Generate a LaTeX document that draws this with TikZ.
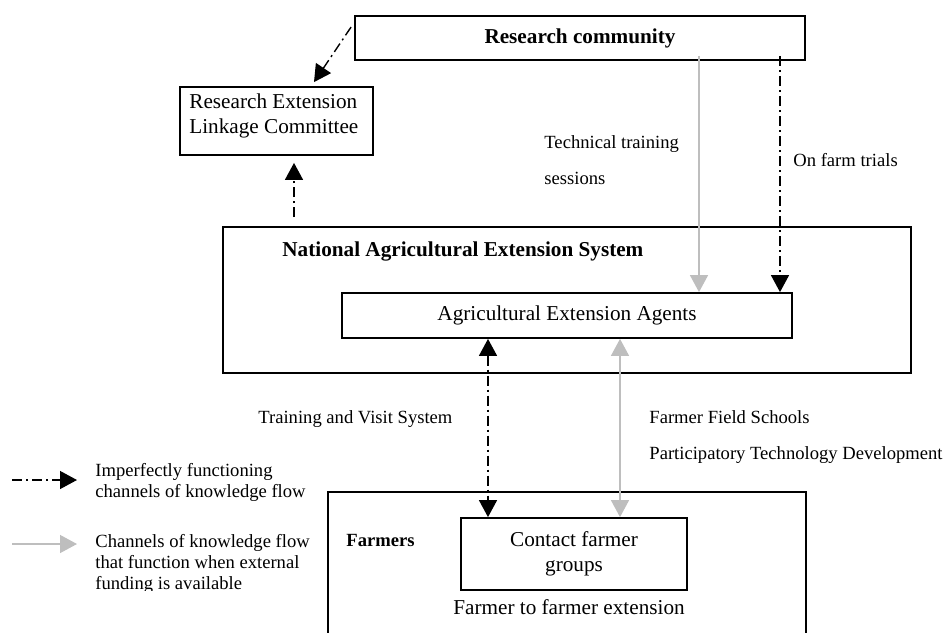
\documentclass[tikz,border=0pt]{standalone}
\usepackage{fontspec}
\setmainfont{Liberation Serif}
\usepackage{tikz}
\usetikzlibrary{arrows.meta, positioning}
\definecolor{flowgray}{RGB}{190,190,190}

\begin{document}
\begin{tikzpicture}[
  x=0.5pt, y=-0.5pt,
  >={Triangle[length=8.5pt,width=9pt]},
  box/.style={draw, line width=0.9pt, inner sep=0pt, align=center, font=\fontsize{10.6}{12.5}\selectfont},
  lbl/.style={inner sep=0pt, anchor=west, align=left, font=\fontsize{9.3}{10.6}\selectfont},
  big/.style={inner sep=0pt, align=left, font=\fontsize{10.6}{12.5}\selectfont},
  dd/.style={line width=0.7pt, dash pattern=on 5pt off 2pt on 1pt off 2pt},
  ga/.style={line width=0.7pt, flowgray},
]
\clip (0,0) rectangle (946,632);
% boxes
\node[box, minimum width=225pt, minimum height=22pt] (rc) at (580,38) {\bfseries Research community};
\node[box, minimum width=96.5pt, minimum height=34pt] (relc) at (276.5,121) {};
\node[big, anchor=west] (relctext) at (189,115.5) {Research Extension\\Linkage Committee};
\node[box, minimum width=344pt, minimum height=73pt] (naes) at (567,300) {};
\node[big, anchor=west, font=\fontsize{10.6}{12.5}\selectfont\bfseries] (naestitle) at (282,251) {National Agricultural Extension System};
\node[box, minimum width=225pt, minimum height=22.5pt] (aea) at (567,315.5) {Agricultural Extension Agents};
\node[box, minimum width=239pt, minimum height=84pt] (farm) at (567,576) {};
\node[lbl, font=\fontsize{9.3}{10.6}\selectfont\bfseries] (farmtitle) at (346,540) {Farmers};
\node[box, minimum width=113pt, minimum height=36pt] (cfg) at (574,554) {Contact farmer\\groups};
\node[big, align=center] (f2f) at (569,607) {Farmer to farmer extension};

% channel labels
\node[lbl, font=\fontsize{9.3}{18}\selectfont] (tts) at (544,160) {Technical training\\sessions};
\node[lbl] (oft) at (793,160) {On farm trials};
\node[lbl] (tvs) at (258,419) {Training and Visit System};
\node[lbl, font=\fontsize{9.3}{18}\selectfont] (ffs) at (649,437) {Farmer Field Schools\\Participatory Technology Development};

% flows
\draw[dd, ->] ([shift={(-3,-11)}]rc.west) -- ([shift={(37.5,-4)}]relc.north);
\draw[dd, ->] ([shift={(-273,-9)}]naes.north) -- ([shift={(17.5,7)}]relc.south);
\draw[ga, ->] ([shift={(119,-5)}]rc.south) -- ([xshift=66pt]aea.north);
\draw[dd, ->] ([shift={(200,-5)}]rc.south) -- ([xshift=106.5pt]aea.north);
\draw[dd, <->] ([xshift=-39.5pt]aea.south) -- ([xshift=-43pt]cfg.north);
\draw[ga, <->] ([xshift=26.5pt]aea.south) -- ([xshift=23pt]cfg.north);

% key
\coordinate (k1a) at (12,480);
\coordinate (k1b) at (77,480);
\coordinate (k2a) at (12,544);
\coordinate (k2b) at (77,544);
\draw[dd, ->] (k1a) -- (k1b);
\draw[ga, ->] (k2a) -- (k2b);
\node[lbl] (key1) at (95,482.5) {Imperfectly functioning\\channels of knowledge flow};
\begin{scope}
  \clip (0,500) rectangle (330,590);
  \node[lbl] (key2) at (95,564) {Channels of knowledge flow\\that function when external\\funding is available};
\end{scope}
\end{tikzpicture}
\end{document}
